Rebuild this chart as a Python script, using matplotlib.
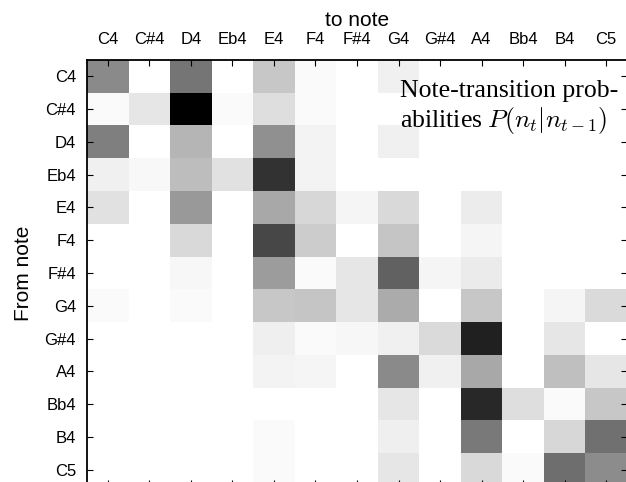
import matplotlib
matplotlib.use("Agg")
import matplotlib.pyplot as plt
import numpy as np

notes = ["C4", "C#4", "D4", "Eb4", "E4", "F4", "F#4", "G4", "G#4", "A4", "Bb4", "B4", "C5"]

# transition strengths (row = from note, column = to note)
row_C4  = [0.46, 0, 0.54, 0, 0.22, 0.02, 0, 0.06, 0, 0, 0, 0, 0]
row_Cs4 = [0.02, 0.10, 1.00, 0.02, 0.13, 0.02, 0, 0, 0, 0, 0, 0, 0]
row_D4  = [0.50, 0, 0.29, 0, 0.435, 0.05, 0, 0.06, 0, 0, 0, 0, 0]
row_Eb4 = [0.06, 0.03, 0.26, 0.12, 0.80, 0.05, 0, 0, 0, 0, 0, 0, 0]
row_E4  = [0.12, 0, 0.40, 0, 0.34, 0.16, 0.04, 0.15, 0, 0.075, 0, 0, 0]
row_F4  = [0, 0, 0.15, 0, 0.72, 0.20, 0, 0.23, 0, 0.04, 0, 0, 0]
row_Fs4 = [0, 0, 0.035, 0, 0.39, 0.02, 0.10, 0.62, 0.04, 0.08, 0, 0, 0]
row_G4  = [0.02, 0, 0.02, 0, 0.22, 0.23, 0.10, 0.33, 0, 0.22, 0, 0.04, 0.145]
row_Gs4 = [0, 0, 0, 0, 0.065, 0.02, 0.035, 0.06, 0.145, 0.87, 0, 0.10, 0]
row_A4  = [0, 0, 0, 0, 0.05, 0.04, 0, 0.46, 0.06, 0.34, 0, 0.25, 0.10]
row_Bb4 = [0, 0, 0, 0, 0, 0, 0, 0.10, 0, 0.84, 0.13, 0.02, 0.22]
row_B4  = [0, 0, 0, 0, 0.02, 0, 0, 0.065, 0, 0.52, 0, 0.16, 0.56]
row_C5  = [0, 0, 0, 0, 0.02, 0, 0, 0.10, 0, 0.15, 0.02, 0.57, 0.45]

P = np.array([row_C4, row_Cs4, row_D4, row_Eb4, row_E4, row_F4, row_Fs4,
              row_G4, row_Gs4, row_A4, row_Bb4, row_B4, row_C5])

plt.rcParams['font.family'] = ['Liberation Sans', 'DejaVu Sans']
plt.rcParams['mathtext.fontset'] = 'cm'

fig = plt.figure(figsize=(6.26, 4.82), dpi=100)
# axes runs a little past the right and bottom edges, like the cropped original
ax = fig.add_axes([87/626, -4/482, 540/626, 426/482])

ax.imshow(P, cmap='gray_r', vmin=0, vmax=1, aspect='auto', interpolation='nearest')

ax.set_xticks(range(len(notes)))
ax.set_yticks(range(len(notes)))
ax.set_xticklabels(notes)
ax.set_yticklabels(notes)
ax.tick_params(direction='in', length=4, width=0.8, top=True, bottom=True,
               left=True, right=True, labeltop=True, labelbottom=False,
               labelsize=12)
ax.tick_params(axis='x', pad=9)
ax.tick_params(axis='y', pad=8)
ax.xaxis.set_label_position('top')
ax.set_xlabel("to note", fontsize=15, labelpad=5)
ax.set_ylabel("From note", fontsize=15, labelpad=8)
for s in ax.spines.values():
    s.set_linewidth(1.3)

fig.text(400/626, 1 - 80/482, "Note-transition prob-\nabilities $P(n_t|n_{t-1})$",
         family='Liberation Serif', fontsize=18.5, ha='left', va='top',
         linespacing=1.15)

fig.savefig("out.png", dpi=100)
